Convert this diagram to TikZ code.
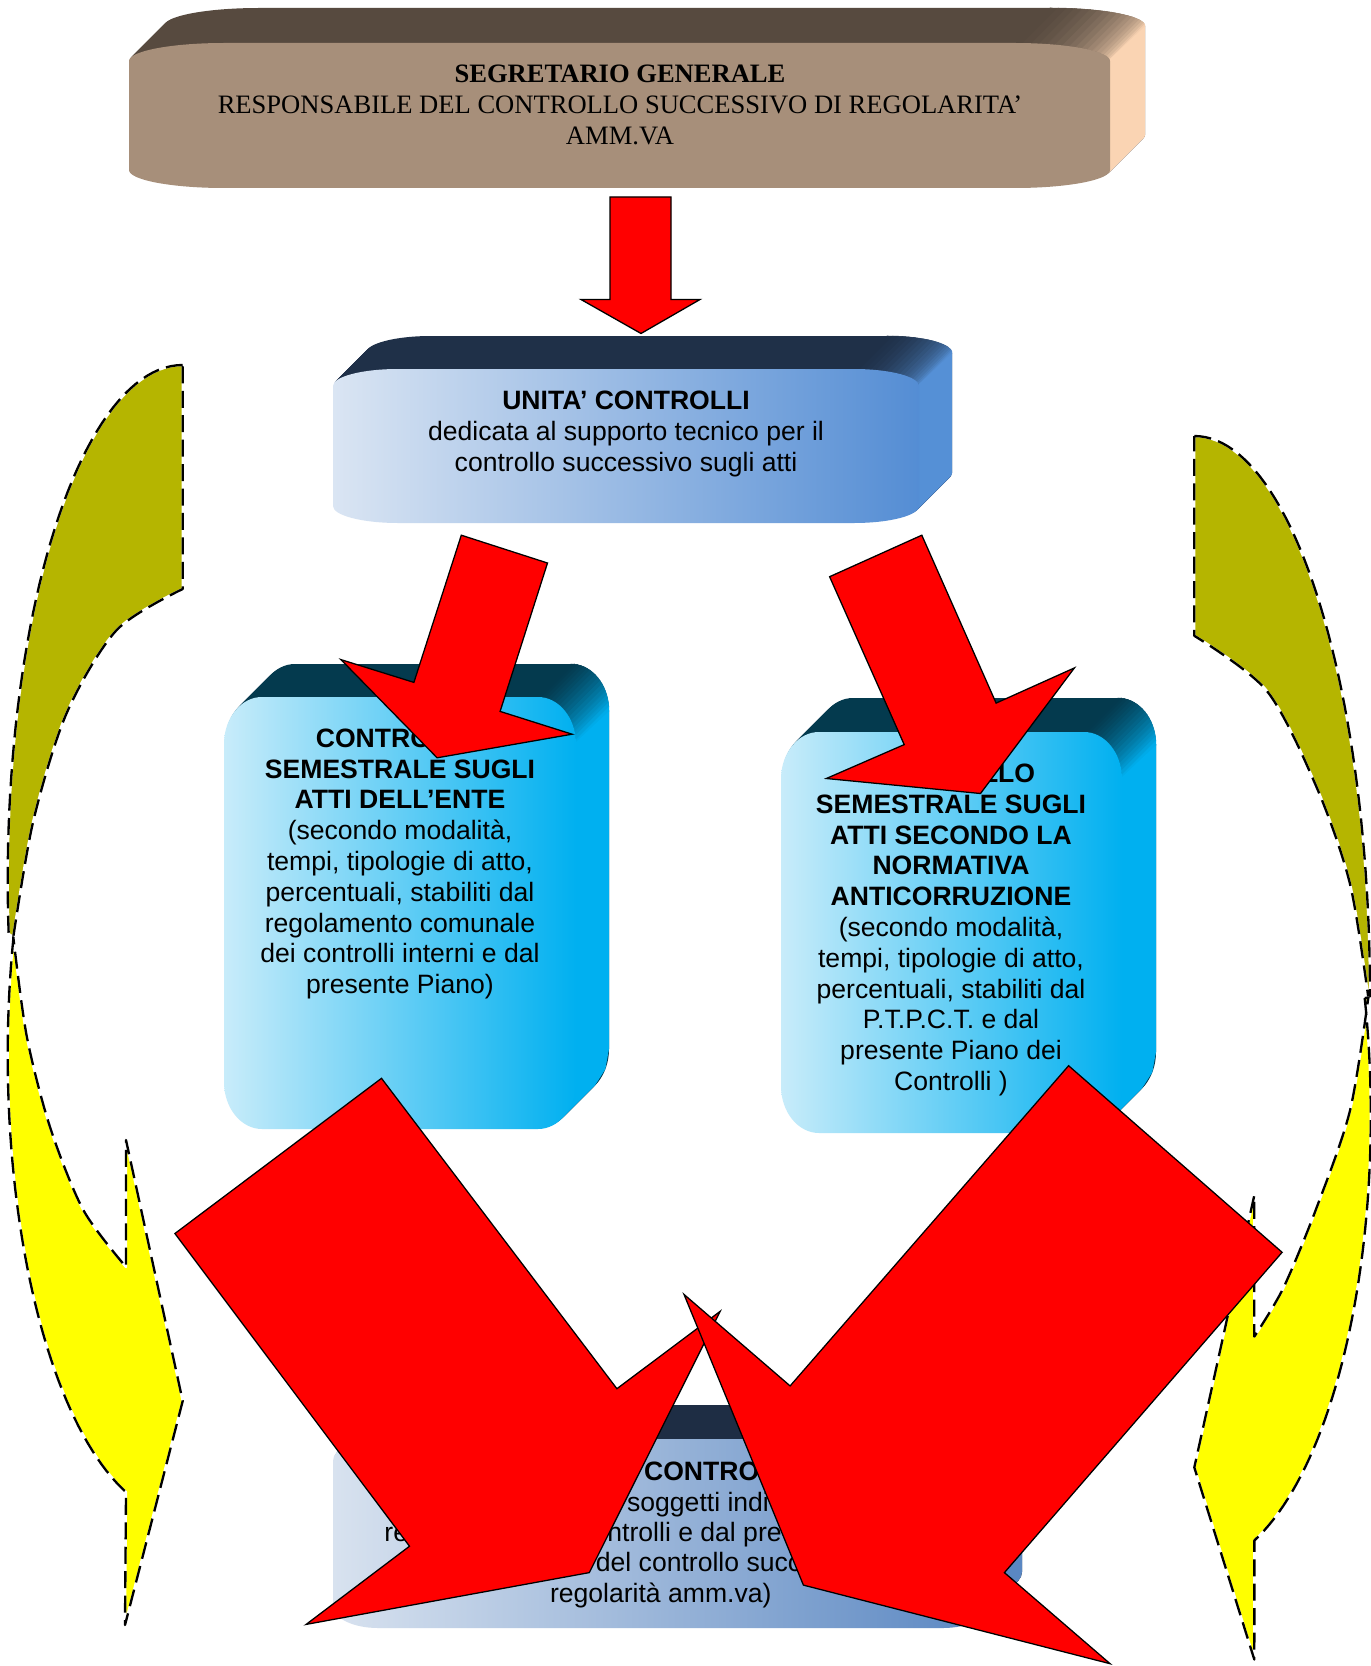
\documentclass[tikz,border=0pt]{standalone}
\usepackage{fontspec}
\setmainfont{Liberation Serif}
\newfontfamily\arialf{Liberation Sans}
\definecolor{brfront}{HTML}{A78F7A}
\definecolor{brtop}{HTML}{574A3F}
\definecolor{brside}{HTML}{FAD4B3}
\definecolor{ublueA}{HTML}{DAE5F3}
\definecolor{ublueB}{HTML}{548DD4}
\definecolor{utop}{HTML}{1F3048}
\definecolor{uside}{HTML}{5590D6}
\definecolor{cyA}{HTML}{C8ECFA}
\definecolor{cyB}{HTML}{00B0F0}
\definecolor{cytop}{HTML}{043A4E}
\definecolor{bbA}{HTML}{D8E2EF}
\definecolor{bbB}{HTML}{5A87C2}
\definecolor{bbtop}{HTML}{1E2D44}
\definecolor{bbside}{HTML}{5A87C2}
\definecolor{oliv}{HTML}{B5B500}
\definecolor{yel}{HTML}{FFFF00}
% rounded rectangle with elliptic corners: options, L, T, R, B, rx, ry
\newcommand{\RRbox}[7]{\path[#1] (#2,#3+#7) .. controls (#2,#3+0.448*#7) and (#2+0.448*#6,#3) .. (#2+#6,#3) -- (#4-#6,#3) .. controls (#4-0.448*#6,#3) and (#4,#3+0.448*#7) .. (#4,#3+#7) -- (#4,#5-#7) .. controls (#4,#5-0.448*#7) and (#4-0.448*#6,#5) .. (#4-#6,#5) -- (#2+#6,#5) .. controls (#2+0.448*#6,#5) and (#2,#5-0.448*#7) .. (#2,#5-#7) -- cycle;}
% extrusion: L T R B rx ry depth topcolor sidecolor
\newcommand{\ThreeD}[9]{%
  \foreach \i in {1,...,#7}{\RRbox{fill=#8,shift={(\i,-\i)}}{#1}{#2}{#3}{#4}{#5}{#6}}%
  \foreach \k in {0,...,17}{%
    \pgfmathsetmacro\pa{-90+5*\k}%
    \pgfmathsetmacro\pb{-90+5*(\k+1)}%
    \pgfmathsetmacro\mixp{100*((\k+0.5)/18)^1.6}%
    \fill[#9!\mixp!#8, draw=#9!\mixp!#8, line width=0.25pt]
      ({#3-#5+#5*cos(\pa)},{#2+#6+#6*sin(\pa)}) -- ({#3-#5+#5*cos(\pb)},{#2+#6+#6*sin(\pb)})
      -- ({#3-#5+#5*cos(\pb)+#7},{#2+#6+#6*sin(\pb)-#7}) -- ({#3-#5+#5*cos(\pa)+#7},{#2+#6+#6*sin(\pa)-#7}) -- cycle;%
  }%
  \fill[#9] (#3-2,#2+#6) -- (#3+#7,#2+#6-#7) -- (#3+#7,#4-#6-#7)
    -- ({#3-#5+#5*cos(atan(#6/#5)/2)+#7},{#4-#6+#6*sin(atan(#6/#5)/2)-#7})
    -- ({#3-#5+#5*cos(atan(#6/#5))+#7},{#4-#6+#6*sin(atan(#6/#5))-#7})
    -- ({#3-#5+#5*cos(atan(#6/#5))},{#4-#6+#6*sin(atan(#6/#5))})
    -- (#3-2,#4-#6) -- cycle;%
}
\tikzset{
  sanstext/.style={font=\arialf\fontsize{12.5}{14.5}\selectfont, align=center, inner sep=0pt},
  seriftext/.style={font=\fontsize{12.5}{14.5}\selectfont, align=center, inner sep=0pt},
  frag/.style={font=\arialf\fontsize{12.5}{14.5}\selectfont, inner sep=0pt, anchor=base west},
  redarr/.style={fill=red, draw=black, line width=0.6pt},
  curvarr/.style={fill=#1, draw=white, line width=1.1pt, line join=round,
    postaction={draw=black, line width=1.1pt, dash pattern=on 8pt off 3.5pt}}
}
\begin{document}
\begin{tikzpicture}[x=0.4705pt,y=-0.4705pt]
\useasboundingbox (0,0) rectangle (1371,1666);
\fill[white] (0,0) rectangle (1371,1666);

% ---------- curved side arrows ----------
\path[curvarr=oliv] plot[domain=0:96, samples=50, variable=\t] ({182.7+175*cos(-90-\t)},{880+515*sin(-90-\t)})
  -- plot[smooth] coordinates {(13.3,937) (33.3,821) (66.7,713) (116.7,630) (182.7,589)} -- cycle;
\path[curvarr=yel] plot[domain=0:85.9, samples=50, variable=\t] ({182.7+175*cos(194.8-\t)},{1055+462*sin(194.8-\t)})
  -- (125,1625) -- (182.7,1401) -- (126,1140) -- (126,1267)
  -- plot[smooth] coordinates {(126,1267) (83.3,1210) (50,1127) (26.7,1036) (13.3,937)} -- cycle;

\path[curvarr=oliv] plot[domain=0:90, samples=50, variable=\t] ({1194.3+175.7*cos(-90+\t)},{996+560*sin(-90+\t)})
  -- plot[smooth] coordinates {(1368.3,997.5) (1350,884) (1316.7,787.5) (1266.7,690.7) (1194.3,635.8)} -- cycle;
\path[curvarr=yel] plot[domain=0:85.2, samples=50, variable=\t] ({1194.3+176.5*cos(-15.1+\t)},{1115.7+451.7*sin(-15.1+\t)})
  -- (1254.3,1659.5) -- (1194.3,1467.4) -- (1254.3,1195.3) -- (1254.3,1336.6)
  -- plot[smooth] coordinates {(1254.3,1336.6) (1283.3,1288) (1316.7,1207.4) (1350,1110.5) (1368.3,997.5)} -- cycle;

% ---------- boxes ----------
\ThreeD{129}{43}{1110}{188}{95}{18}{35}{brtop}{brside}
\RRbox{fill=brfront}{129}{43}{1110}{188}{95}{18}

\ThreeD{333}{369}{919}{523}{65}{17}{33}{utop}{uside}
\RRbox{left color=ublueA,right color=ublueB}{333}{369}{919}{523}{65}{17}

\ThreeD{224}{697}{576}{1129}{38}{47}{33}{cytop}{cyB}
\RRbox{left color=cyA,right color=cyB}{224}{697}{576}{1129}{38}{47}

\ThreeD{781}{732}{1122}{1133}{38}{47}{34}{cytop}{cyB}
\RRbox{left color=cyA,right color=cyB}{781}{732}{1122}{1133}{38}{47}

\ThreeD{333}{1439}{988}{1628}{45}{22}{34}{bbtop}{bbside}
\RRbox{left color=bbA,right color=bbB}{333}{1439}{988}{1628}{45}{22}

% ---------- texts ----------
\node[seriftext] (seg) at (620,105) {\textbf{SEGRETARIO GENERALE}\\RESPONSABILE DEL CONTROLLO SUCCESSIVO DI REGOLARITA’\\AMM.VA};
\node[sanstext] (unita) at (626,434) {\textbf{UNITA’ CONTROLLI}\\dedicata al supporto tecnico per il\\controllo successivo sugli atti};
\node[sanstext] (csx) at (400,864) {\textbf{CONTROLLO}\\\textbf{SEMESTRALE SUGLI}\\\textbf{ATTI DELL’ENTE}\\(secondo modalità,\\tempi, tipologie di atto,\\percentuali, stabiliti dal\\regolamento comunale\\dei controlli interni e dal\\presente Piano)};
\node[sanstext] (cdx) at (951,930) {\textbf{CONTROLLO}\\\textbf{SEMESTRALE SUGLI}\\\textbf{ATTI SECONDO LA}\\\textbf{NORMATIVA}\\\textbf{ANTICORRUZIONE}\\(secondo modalità,\\tempi, tipologie di atto,\\percentuali, stabiliti dal\\P.T.P.C.T. e dal\\presente Piano dei\\Controlli )};
\node[frag] (b1) at (643.7,1480) {\textbf{CONTRO}};
\node[frag] (b2) at (626.7,1511.7) {soggetti indi};
\node[frag] (b3) at (384,1541.7) {re};
\node[frag] (b4) at (607,1541.7) {ntrolli e dal pre};
\node[frag] (b5) at (595.5,1571.7) {del controllo succ};
\node[frag] (b6) at (549.6,1602.5) {regolarità amm.va)};

% ---------- red arrows ----------
\path[redarr] (610,197) -- (671,197) -- (671,299.5) -- (700,299.5) -- (641,333.5) -- (581,299.5) -- (610,299.5) -- cycle;
\path[redarr] (461.3,535.2) -- (547.5,563) -- (500.1,711.4) -- (572.1,734.2) -- (437.1,757.8) -- (340.9,659.6) -- (413.9,682.4) -- cycle;
\path[redarr] (829.6,576.7) -- (921.8,535.2) -- (996.1,703.1) -- (1074.4,667.9) -- (980.5,793.5) -- (826.3,778.5) -- (904.2,744.6) -- cycle;
\path[redarr] (381.5,1078.3) -- (174.9,1233.5) -- (409.5,1546.2) -- (306.1,1624.4) -- (589.3,1572.6) -- (720.2,1311.3) -- (616.9,1388.7) -- cycle;
\path[redarr] (1068.6,1065.7) -- (1282.1,1252.3) -- (1004.4,1572.6) -- (1110.1,1663.7) -- (803.4,1585.1) -- (684,1294.4) -- (790.1,1385.9) -- cycle;
\end{tikzpicture}
\end{document}
